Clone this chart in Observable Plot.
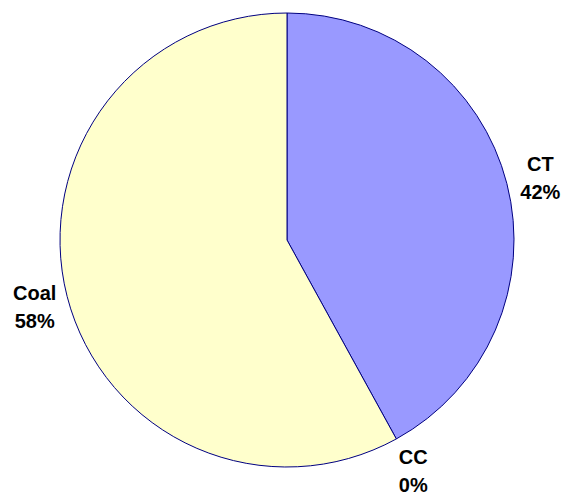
<!DOCTYPE html>
<html>
<head>
<meta charset="utf-8">
<script src="https://cdn.jsdelivr.net/npm/d3@7"></script>
<script src="https://cdn.jsdelivr.net/npm/@observablehq/plot@0.6"></script>
<style>
html,body{margin:0;padding:0;background:#fff;}
</style>
</head>
<body>
<div id="chart"></div>
<script>
const categories = ["CT", "CC", "Coal"];
const values = [42, 0, 58];
const colors = ["#9999ff", "#ccffcc", "#ffffcc"];

const total = d3.sum(values);
const pie = d3.pie().sort(null).value(d => d.value);
const arcs = pie(categories.map((c, i) => ({name: c, value: values[i], color: colors[i]})));
const labels = arcs.map(a => {
  const mid = (a.startAngle + a.endAngle) / 2;
  const r = 1.15;
  return {
    x: r * Math.sin(mid),
    y: r * Math.cos(mid),
    text: a.data.name + "\n" + Math.round(a.data.value / total * 100) + "%"
  };
});

const W = 563, H = 496, R = 227, cx = 287, cy = 240;

function pieMark(index, scales) {
  const x0 = scales.x(0), y0 = scales.y(0);
  const rad = scales.x(1) - x0;
  const arcGen = d3.arc().innerRadius(0).outerRadius(rad);
  const g = d3.create("svg:g").attr("transform", `translate(${x0},${y0})`);
  g.selectAll("path")
    .data(arcs.filter(a => a.data.value > 0))
    .join("path")
    .attr("d", arcGen)
    .attr("fill", a => a.data.color)
    .attr("stroke", "#000080")
    .attr("stroke-width", 1)
    .attr("stroke-linejoin", "round");
  return g.node();
}

const plot = Plot.plot({
  width: W,
  height: H,
  margin: 0,
  x: {domain: [-cx / R, (W - cx) / R], range: [0, W], axis: null},
  y: {domain: [-(H - cy) / R, cy / R], range: [H, 0], axis: null},
  style: {background: "#fff"},
  marks: [
    pieMark,
    Plot.text(labels, {
      x: "x", y: "y", text: "text",
      fontSize: 20, fontWeight: "bold",
      fontFamily: "Liberation Sans, Arial, sans-serif",
      fill: "#000", lineHeight: 1.4, textAnchor: "middle"
    })
  ]
});
document.getElementById("chart").appendChild(plot);
</script>
</body>
</html>
